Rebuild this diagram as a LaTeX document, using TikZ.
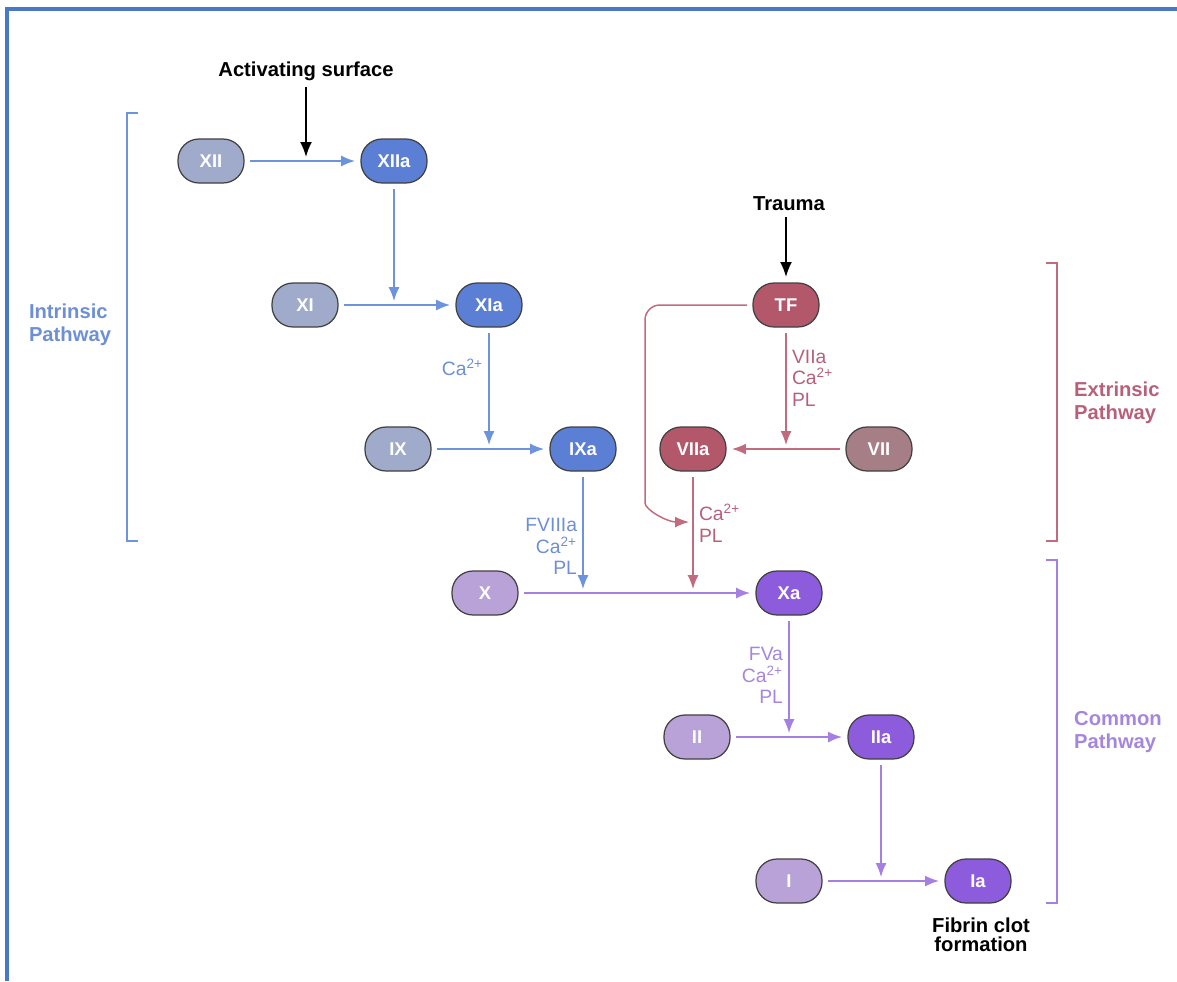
\documentclass[tikz,border=0pt]{standalone}
\usepackage{fontspec}
\setmainfont{Liberation Sans}
\usepackage{tikz}
\usetikzlibrary{calc}
\usetikzlibrary{positioning}
\usetikzlibrary{arrows.meta}

\definecolor{frameblue}{HTML}{4A78C8}
\definecolor{inFill}{HTML}{5A7FD4}
\definecolor{inPale}{HTML}{A0ABCB}
\definecolor{inLine}{HTML}{6B93DE}
\definecolor{inText}{HTML}{6D8FD6}
\definecolor{exFill}{HTML}{B3576B}
\definecolor{exPale}{HTML}{A67E86}
\definecolor{exLine}{HTML}{C26B7E}
\definecolor{exText}{HTML}{B8607A}
\definecolor{coFill}{HTML}{8D5CDC}
\definecolor{coPale}{HTML}{B8A2D8}
\definecolor{coLine}{HTML}{A67FE3}
\definecolor{coText}{HTML}{A586DE}

\begin{document}
\begin{tikzpicture}[
		x=0.02cm, y=-0.02cm,
		factor/.style={draw=black!75, line width=0.7pt, rectangle, rounded corners=0.42cm,
			minimum width=1.32cm, minimum height=0.88cm, inner sep=0pt, outer sep=0.12cm,
			text=white, font=\fontsize{10.5}{12}\selectfont\bfseries},
		arrow/.style={-{Latex[length=0.28cm,width=0.22cm]}, line width=0.85pt},
		binarrow/.style={arrow, inLine},
		rarrow/.style={arrow, exLine},
		parrow/.style={arrow, coLine},
		karrow/.style={-{Latex[length=0.3cm,width=0.24cm]}, black, line width=1pt},
		tojoin/.style={shorten >=0.08cm},
		cofactor/.style={font=\fontsize{11}{12.2}\selectfont, inner sep=3pt},
		heading/.style={font=\fontsize{11.5}{13}\selectfont\bfseries},
		bracket/.style={line width=0.85pt}
		]
		\useasboundingbox (0,0) rectangle (1177,981);
		
		% frame
		\draw[frameblue, line width=2pt] (7,981) -- (7,9) -- (1177,9);
		
		% Intrinsic pathway
		\node[factor, fill=inPale] (xii) at (211,161) {XII};
		\node[factor, fill=inFill] (xiia) at (394,161) {XIIa};
		\node[factor, fill=inPale] (xi) at (305,305) {XI};
		\node[factor, fill=inFill] (xia) at (489,305) {XIa};
		\node[factor, fill=inPale] (ix) at (398,449) {IX};
		\node[factor, fill=inFill] (ixa) at (583,449) {IXa};
		
		% Extrinsic pathway
		\node[factor, fill=exFill] (tf) at (786,305) {TF};
		\node[factor, fill=exFill] (viia) at (693,449) {VIIa};
		\node[factor, fill=exPale] (vii) at (879,449) {VII};
		
		% Common pathway
		\node[factor, fill=coPale] (x) at (485,593) {X};
		\node[factor, fill=coFill] (xa) at (789,593) {Xa};
		\node[factor, fill=coPale] (ii) at (697,737) {II};
		\node[factor, fill=coFill] (iia) at (881,737) {IIa};
		\node[factor, fill=coPale] (i) at (789,881) {I};
		\node[factor, fill=coFill] (ia) at (978,881) {Ia};
		
		% triggers and result
		\node[heading] (actsurf) at (306,71) {Activating surface};
		\node[heading] (trauma) at (789,204) {Trauma};
		\node[heading, align=center, font=\fontsize{11.5}{11}\selectfont\bfseries] (fibrin) at (981,935) {Fibrin clot\\formation};
		
		% pathway labels
		\node[heading, inText, align=left] (intrinsic) at (70,325) {Intrinsic\\Pathway};
		\node[heading, exText, align=left, anchor=west] (extrinsic) at (1068,403) {Extrinsic\\Pathway};
		\node[heading, coText, align=left, anchor=west] (common) at (1068,732) {Common\\Pathway};
		
		% brackets
		\draw[bracket, inLine] (138,113) -- (127,113) -- (127,541) -- (138,541);
		\draw[bracket, exLine] (1046,263) -- (1057,263) -- (1057,541) -- (1046,541);
		\draw[bracket, coLine] (1046,560) -- (1057,560) -- (1057,903) -- (1046,903);
		
		% black trigger arrows
		\draw[karrow, tojoin] (actsurf) -- (actsurf |- xii);
		\draw[karrow] (tf |- trauma.south) -- (tf);
		
		% intrinsic cascade
		\draw[binarrow] (xii) -- (xiia);
		\draw[binarrow, tojoin] (xiia.south) -- (xiia.south |- xi.east);
		\draw[binarrow] (xi) -- (xia);
		\draw[binarrow, tojoin] (xia.south) -- node[pos=0.3, left, cofactor, inText] {Ca\textsuperscript{2+}} (xia.south |- ix.east);
		\draw[binarrow] (ix) -- (ixa);
		\draw[binarrow, tojoin] (ixa.south) -- node[pos=0.6, left, cofactor, inText, align=right] {FVIIIa\\Ca\textsuperscript{2+}\\PL} (ixa.south |- x.east);
		
		% extrinsic cascade
		\coordinate (tfjoin) at (689,522);
		\draw[rarrow, rounded corners=0.3cm] (tf.west) -| (645,488) to[out=-90, in=180] (tfjoin);
		\draw[rarrow, tojoin] (tf.south) -- node[pos=0.39, right, cofactor, exText, align=left] {VIIa\\Ca\textsuperscript{2+}\\PL} (tf.south |- vii.west);
		\draw[rarrow] (vii) -- (viia);
		\draw[rarrow, tojoin] (viia.south) -- node[pos=0.4, right, cofactor, exText, align=left] {Ca\textsuperscript{2+}\\PL} (viia.south |- xa.west);
		
		% common cascade
		\draw[parrow] (x) -- (xa);
		\draw[parrow, tojoin] (xa.south) -- node[pos=0.47, left, cofactor, coText, align=right] {FVa\\Ca\textsuperscript{2+}\\PL} (xa.south |- ii.east);
		\draw[parrow] (ii) -- (iia);
		\draw[parrow, tojoin] (iia.south) -- (iia.south |- i.east);
		\draw[parrow] (i) -- (ia);
		
	\end{tikzpicture}
\end{document}
